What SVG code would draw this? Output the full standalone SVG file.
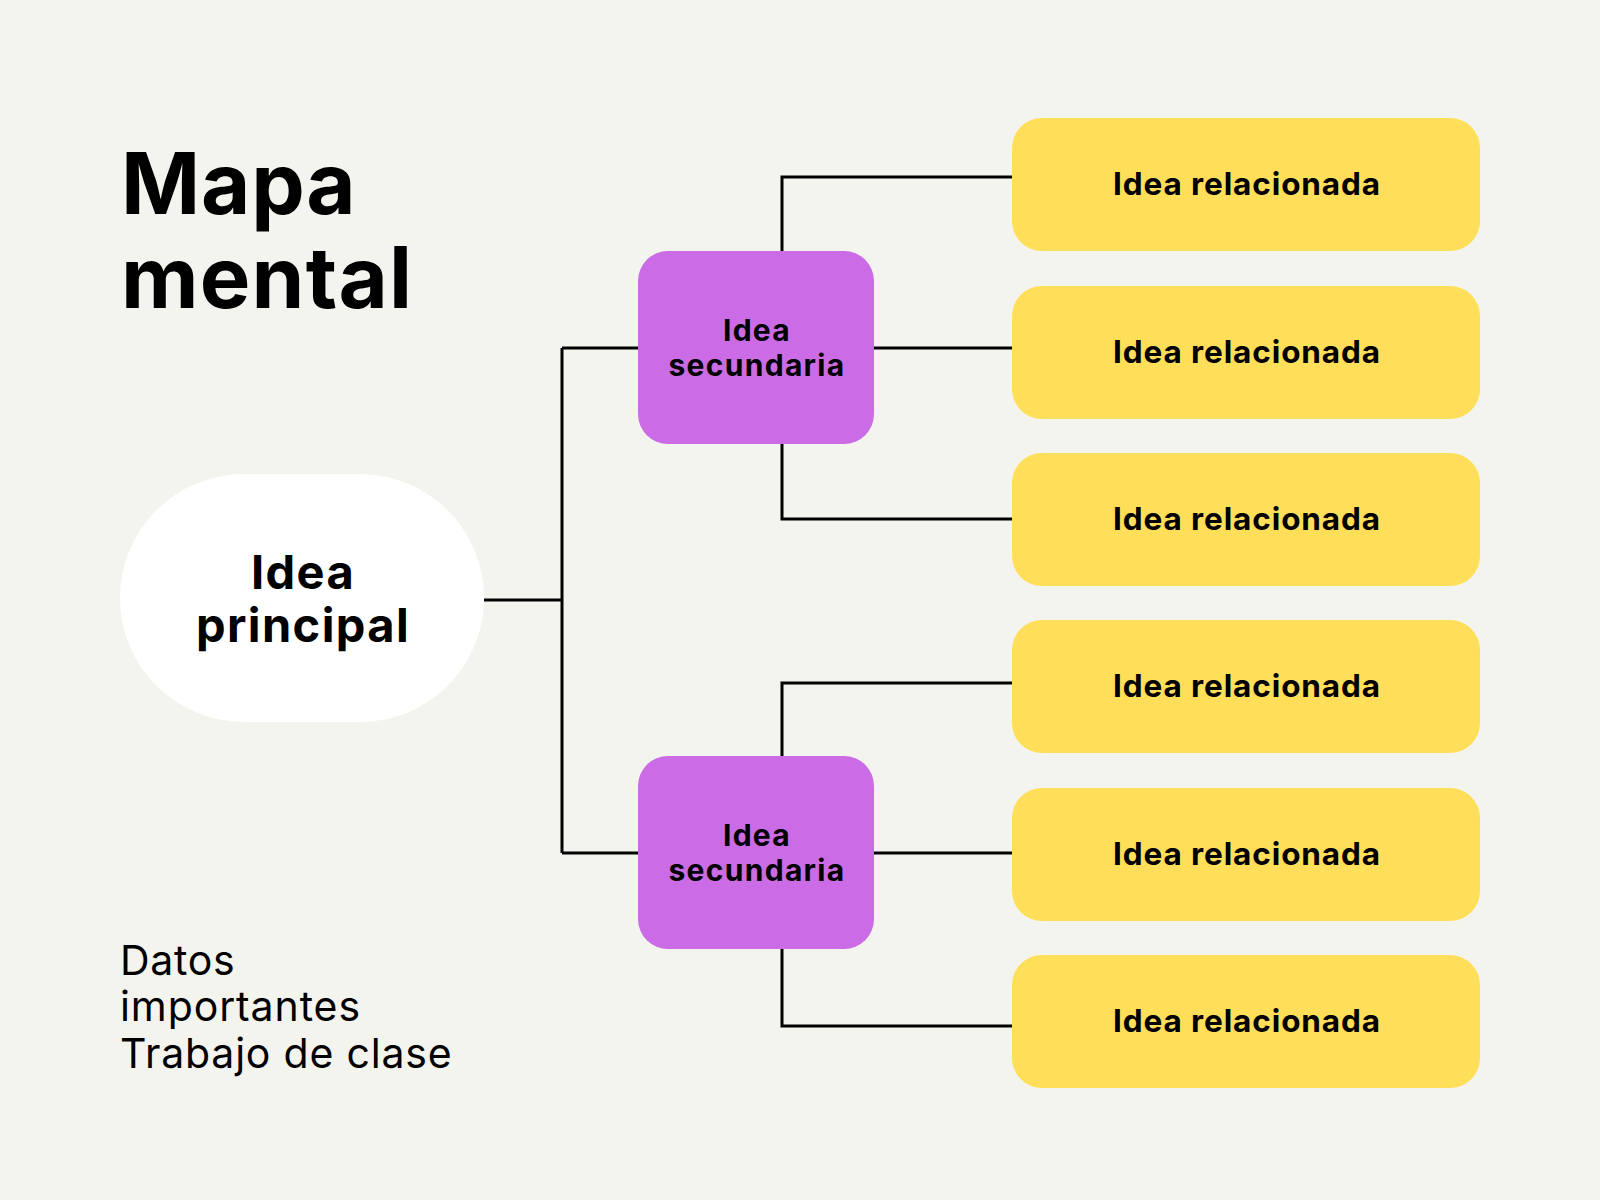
<svg xmlns="http://www.w3.org/2000/svg" width="1600" height="1200" viewBox="0 0 1600 1200">
<style>
.t{font-family:Inter,"Liberation Sans",sans-serif;fill:#000}
.b{font-weight:700}
.yl{fill:#FFDE59}
.pu{fill:#CB6CE6}
.yt{font-size:31.5px;font-weight:700;text-anchor:middle;letter-spacing:0.9px}
.pt{font-size:30px;font-weight:700;text-anchor:middle;letter-spacing:1.3px}
.c{stroke:#000;stroke-width:3;fill:none}
</style>
<rect width="1600" height="1200" fill="#F4F4EF"/>
<g id="title"><text class="t b" x="121" y="214" font-size="85" letter-spacing="0.8">Mapa</text><text class="t b" x="121" y="308" font-size="85" letter-spacing="1.2">mental</text></g>
<g id="notes"><text class="t" x="120" y="975" font-size="41" letter-spacing="0.7">Datos</text><text class="t" x="120" y="1021" font-size="41" letter-spacing="0.9">importantes</text><text class="t" x="120" y="1068" font-size="41" letter-spacing="0.8">Trabajo de clase</text></g>
<g id="connectors">
<path class="c" d="M484 600H562M562 348V853M562 348H638M562 853H638"/>
<path class="c" d="M782 251V177H1012M874 348H1012M782 444V519H1012"/>
<path class="c" d="M782 756V683H1012M874 853H1012M782 949V1026H1012"/>
</g>
<g id="main"><rect x="120" y="474" width="364" height="248" rx="124" fill="#fff"/><text class="t b" x="303" y="589" font-size="47" text-anchor="middle" letter-spacing="1.4">Idea</text><text class="t b" x="303" y="642" font-size="47" text-anchor="middle" letter-spacing="1.4">principal</text></g>
<g id="sec1"><rect class="pu" x="638" y="251" width="236" height="193" rx="30"/><text class="t pt" x="757" y="341">Idea</text><text class="t pt" x="757" y="376">secundaria</text></g>
<g id="sec2"><rect class="pu" x="638" y="756" width="236" height="193" rx="30"/><text class="t pt" x="757" y="846">Idea</text><text class="t pt" x="757" y="881">secundaria</text></g>
<g id="rel1"><rect class="yl" x="1012" y="118" width="468" height="133" rx="30"/><text class="t yt" x="1247" y="195">Idea relacionada</text></g>
<g id="rel2"><rect class="yl" x="1012" y="286" width="468" height="133" rx="30"/><text class="t yt" x="1247" y="363">Idea relacionada</text></g>
<g id="rel3"><rect class="yl" x="1012" y="453" width="468" height="133" rx="30"/><text class="t yt" x="1247" y="530">Idea relacionada</text></g>
<g id="rel4"><rect class="yl" x="1012" y="620" width="468" height="133" rx="30"/><text class="t yt" x="1247" y="697">Idea relacionada</text></g>
<g id="rel5"><rect class="yl" x="1012" y="788" width="468" height="133" rx="30"/><text class="t yt" x="1247" y="865">Idea relacionada</text></g>
<g id="rel6"><rect class="yl" x="1012" y="955" width="468" height="133" rx="30"/><text class="t yt" x="1247" y="1032">Idea relacionada</text></g>
</svg>
